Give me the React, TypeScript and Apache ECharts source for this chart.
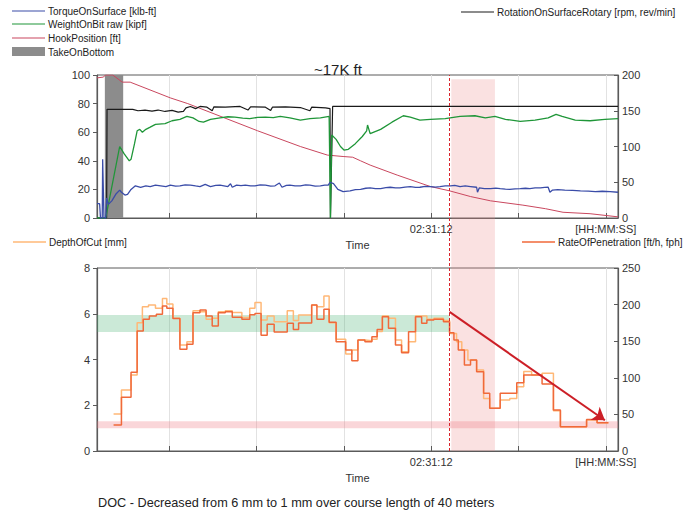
import React, { useEffect, useRef } from 'react';
import * as echarts from 'echarts';

// ---------- axes ----------
const X_MIN = -3.83; // minutes relative to 02:31:12
const X_MAX = 2.14;
const GRID_TICKS = [-3, -2, -1, 0, 1, 2];
const TIME_LABEL_VALUES = [0, 2];
const TIME_LABELS = ['02:31:12', '[HH:MM:SS]'];

// ---------- names ----------
const N_TORQUE = 'TorqueOnSurface [klb-ft]';
const N_WOB = 'WeightOnBit raw [kipf]';
const N_HOOK = 'HookPosition [ft]';
const N_TOB = 'TakeOnBottom';
const N_ROT = 'RotationOnSurfaceRotary [rpm, rev/min]';
const N_DOC = 'DepthOfCut [mm]';
const N_ROP = 'RateOfPenetration [ft/h, fph]';

const TITLE = '~17K ft';
const CAPTION = 'DOC - Decreased from 6 mm to 1 mm over course length of 40 meters';

// ---------- top chart data ----------
const torque: [number, number][] = [
  [-3.83, 10], [-3.8, 10], [-3.79, 0], [-3.77, 0], [-3.765, 41], [-3.75, 0], [-3.73, 0], [-3.72, 14],
  [-3.7, 9.5], [-3.66, 12], [-3.61, 17], [-3.57, 19.5], [-3.55, 18], [-3.51, 16], [-3.48, 16.5],
  [-3.44, 20], [-3.39, 22.5], [-3.33, 21.5], [-3.27, 22.5], [-3.22, 22], [-3.16, 23], [-3.1, 22.5],
  [-3.04, 22], [-2.99, 23], [-2.93, 22.3], [-2.88, 22.5], [-2.82, 23.2], [-2.76, 23], [-2.7, 22.4],
  [-2.65, 22], [-2.59, 23.5], [-2.53, 22], [-2.47, 22.8], [-2.42, 23], [-2.33, 22], [-2.3, 24],
  [-2.28, 21.5], [-2.23, 23], [-2.18, 22.6], [-2.13, 23], [-2.07, 22.4], [-2.02, 22.5], [-1.96, 23.2],
  [-1.9, 23], [-1.84, 22.3], [-1.79, 22.5], [-1.74, 24.5], [-1.71, 21.5], [-1.66, 22.8], [-1.62, 23],
  [-1.56, 22.4], [-1.5, 22.5], [-1.44, 23.1], [-1.39, 23], [-1.33, 22.3], [-1.27, 22.5], [-1.22, 23],
  [-1.18, 23], [-1.16, 25], [-1.12, 24], [-1.07, 20], [-1.01, 18.5], [-0.93, 19], [-0.87, 19.8],
  [-0.81, 20], [-0.75, 20.8], [-0.7, 21], [-0.64, 20.6], [-0.58, 20.5], [-0.52, 21.2], [-0.47, 21.5],
  [-0.41, 21], [-0.36, 21], [-0.3, 21.6], [-0.24, 22], [-0.18, 21.4], [-0.13, 21.5], [-0.07, 22.1],
  [-0.01, 22], [0.05, 21.6], [0.1, 22], [0.16, 22.5], [0.22, 22.5], [0.27, 22.8], [0.33, 22],
  [0.39, 22.4], [0.45, 22], [0.52, 21.5], [0.53, 18], [0.55, 21], [0.61, 20.6], [0.68, 20.5],
  [0.74, 20.9], [0.79, 20.5], [0.85, 20.2], [0.9, 20], [0.96, 20.4], [1.02, 20.5], [1.08, 20.8],
  [1.13, 20.5], [1.19, 21], [1.25, 21], [1.3, 21.4], [1.34, 21.5], [1.36, 18], [1.39, 19.5],
  [1.45, 19.8], [1.53, 19.5], [1.62, 19.3], [1.71, 19], [1.8, 18.8], [1.88, 18.5], [1.96, 18.7],
  [2.05, 18.5], [2.14, 18],
];

const wob: [number, number][] = [
  [-3.83, 0], [-3.73, 0], [-3.65, 25], [-3.57, 50], [-3.52, 45], [-3.46, 40], [-3.44, 41], [-3.4, 52],
  [-3.37, 61], [-3.34, 62], [-3.31, 60], [-3.27, 62], [-3.22, 63.5], [-3.16, 65.5], [-3.05, 66],
  [-2.97, 68], [-2.88, 69], [-2.8, 71], [-2.73, 70], [-2.66, 67.5], [-2.61, 67], [-2.53, 69],
  [-2.42, 70], [-2.33, 70.8], [-2.25, 70.5], [-2.16, 69.8], [-2.08, 69.5], [-1.99, 70.3], [-1.9, 70.5],
  [-1.81, 70.2], [-1.73, 71], [-1.62, 70], [-1.5, 68.5], [-1.39, 69.5], [-1.27, 70], [-1.17, 71],
  [-1.155, 0], [-1.14, 58], [-1.09, 55], [-1.04, 50], [-1.0, 47.5], [-0.95, 48], [-0.87, 52],
  [-0.79, 57], [-0.74, 61], [-0.73, 65], [-0.7, 59], [-0.58, 62], [-0.45, 67], [-0.32, 71.5],
  [-0.24, 70.5], [-0.13, 68.5], [-0.01, 69], [0.16, 69.5], [0.33, 71], [0.5, 71.5], [0.62, 70],
  [0.73, 71], [0.85, 69], [1.02, 67.5], [1.19, 68.5], [1.34, 70], [1.43, 72.5], [1.5, 71],
  [1.65, 68.5], [1.82, 68], [1.99, 69], [2.14, 69.5],
];

const hook: [number, number][] = [
  [-3.83, 98], [-3.76, 98.5], [-3.73, 100], [-3.65, 100], [-3.54, 95], [-3.45, 95], [-2.99, 84],
  [-2.79, 80], [-1.99, 61], [-1.5, 50], [-1.19, 44], [-1.01, 43], [-0.9, 42.5], [-0.81, 40],
  [-0.7, 37], [-0.39, 30], [-0.01, 22], [0.21, 19], [0.45, 15], [0.68, 12], [1.05, 9], [1.31, 6.5],
  [1.51, 4], [1.82, 3], [2.14, 0.8],
];

const rotation: [number, number][] = [
  [-3.83, 0], [-3.72, 0], [-3.715, 152], [-3.42, 152], [-3.36, 150], [-3.28, 151], [-3.2, 149.5],
  [-3.13, 151], [-3.05, 149], [-2.97, 150.5], [-2.9, 148], [-2.84, 149], [-2.81, 154], [-2.76, 156],
  [-2.7, 153], [-2.65, 156], [-2.57, 155], [-2.51, 150], [-2.49, 155.5], [-2.36, 155], [-2.19, 156],
  [-2.1, 151], [-2.07, 155.5], [-1.9, 155], [-1.84, 150.5], [-1.82, 155], [-1.67, 155.5],
  [-1.5, 154.5], [-1.39, 150], [-1.37, 155], [-1.21, 154], [-1.16, 153], [-1.155, 0], [-1.13, 156],
  [2.14, 156],
];

const takeOnBottom = [-3.74, -3.53];

// ---------- bottom chart data (step, value holds until next point) ----------
const doc: [number, number][] = [
  [-3.64, 1.62], [-3.55, 2.67], [-3.44, 3.32], [-3.37, 5.61], [-3.31, 6.31], [-3.24, 6.38],
  [-3.16, 6.24], [-3.08, 6.67], [-3.03, 6.43], [-2.96, 5.8], [-2.88, 4.63], [-2.8, 4.78],
  [-2.73, 6.13], [-2.65, 6.09], [-2.58, 5.76], [-2.51, 5.8], [-2.44, 6.09], [-2.36, 6.13],
  [-2.28, 6.05], [-2.17, 5.84], [-2.08, 6.24], [-2.02, 6.49], [-1.95, 5.73], [-1.88, 5.9],
  [-1.8, 5.65], [-1.65, 6.13], [-1.58, 5.7], [-1.52, 5.95], [-1.37, 6.38], [-1.31, 6.31],
  [-1.23, 6.78], [-1.17, 5.61], [-1.09, 4.88], [-0.98, 4.24], [-0.91, 4.42], [-0.84, 4.85],
  [-0.76, 4.82], [-0.68, 4.88], [-0.62, 5.22], [-0.56, 5.9], [-0.49, 5.8], [-0.41, 4.85],
  [-0.34, 4.34], [-0.26, 4.78], [-0.18, 5.9], [-0.05, 5.76], [0.03, 5.8], [0.14, 5.7], [0.21, 5.14],
  [0.29, 4.78], [0.35, 4.42], [0.42, 3.98], [0.52, 3.54], [0.6, 2.3], [0.67, 1.87], [0.79, 2.23],
  [0.9, 2.3], [0.98, 2.81], [1.06, 3.47], [1.15, 3.32], [1.27, 3.4], [1.4, 1.76], [1.48, 1.06],
  [1.78, 1.36], [1.9, 1.24], [2.03, 1.24],
];

const rop: [number, number][] = [
  [-3.64, 35.5], [-3.55, 73.4], [-3.44, 107.5], [-3.37, 164], [-3.3, 180], [-3.23, 184.4],
  [-3.15, 186.7], [-3.08, 198], [-3.03, 195], [-2.96, 181], [-2.88, 139], [-2.8, 146], [-2.73, 189],
  [-2.65, 192.6], [-2.58, 184.4], [-2.51, 170.8], [-2.44, 189], [-2.36, 190.3], [-2.28, 182.6],
  [-2.17, 180], [-2.08, 186.2], [-2.02, 188], [-1.95, 158], [-1.88, 173], [-1.8, 162.6],
  [-1.65, 174.4], [-1.58, 166], [-1.52, 175], [-1.37, 199.5], [-1.31, 180], [-1.23, 193.6],
  [-1.17, 176], [-1.09, 149.3], [-0.98, 138], [-0.91, 123.4], [-0.84, 151.6], [-0.76, 149.3],
  [-0.68, 156], [-0.62, 166], [-0.56, 183.5], [-0.49, 167.6], [-0.41, 144.8], [-0.34, 134.3],
  [-0.26, 163], [-0.18, 183.5], [-0.11, 174.4], [-0.05, 179], [0.03, 180], [0.14, 176.6],
  [0.21, 161.6], [0.26, 151.6], [0.31, 138], [0.38, 117.5], [0.45, 124.3], [0.52, 108.3],
  [0.6, 78.8], [0.67, 58.3], [0.79, 78.8], [0.98, 93.3], [1.06, 103.8], [1.27, 91.5], [1.4, 56],
  [1.48, 33], [1.78, 43], [1.9, 38.5], [2.03, 38.5],
];

// ---------- annotations ----------
const CUT_TIME = 0.21;
const HIGHLIGHT = [0.23, 0.73];
const HIGHLIGHT_TOP = 98.9; // percent of overlay height
const GREEN_BAND = [5.2, 5.95];
const RED_BAND = [1.0, 1.3];
const ARROW_FROM: [number, number] = [0.21, 190];
const ARROW_TO: [number, number] = [1.99, 42];

// ---------- colours ----------
const C_TORQUE = '#3a4ca8';
const C_WOB = '#1f9638';
const C_HOOK = '#c9475e';
const C_ROT = '#1a1a1a';
const C_TOB = '#8c8c8c';
const C_DOC = '#ffb877';
const C_ROP = '#f0693a';

const FONT = "'Liberation Sans', Arial, Helvetica, sans-serif";
const AX = '#5a5a5a';
const LBL = '#333';

function xAxisFor(gridIndex: number) {
  return {
    type: 'value',
    gridIndex,
    min: X_MIN,
    max: X_MAX,
    name: 'Time',
    nameLocation: 'middle',
    nameGap: 21,
    nameTextStyle: { color: LBL, fontSize: 11, fontFamily: FONT },
    axisLine: { show: true, onZero: false, lineStyle: { color: AX, width: 1.2 } },
    axisTick: { show: true, inside: true, length: 5, customValues: GRID_TICKS, lineStyle: { color: AX } },
    splitLine: { show: true, lineStyle: { color: '#e2e2e2', width: 1 } },
    axisLabel: {
      customValues: TIME_LABEL_VALUES,
      margin: 5,
      color: LBL,
      fontSize: 11,
      fontFamily: FONT,
      formatter: (v: number) => {
        const i = TIME_LABEL_VALUES.findIndex((t) => Math.abs(t - v) < 1e-6);
        return i >= 0 ? TIME_LABELS[i] : '';
      },
    },
  };
}

function yAxisFor(gridIndex: number, position: 'left' | 'right', max: number, interval: number) {
  const right = position === 'right';
  return {
    type: 'value',
    gridIndex,
    position,
    min: 0,
    max,
    interval,
    axisLine: { show: true, onZero: false, lineStyle: { color: AX, width: 1.2 } },
    axisTick: { show: true, inside: right, length: 4, lineStyle: { color: AX } },
    splitLine: { show: false },
    axisLabel: { color: LBL, fontSize: 11, fontFamily: FONT, margin: right ? 4 : 7 },
  };
}

function legendLine(x: number, y: number, len: number, color: string, text: string, width = 1.2) {
  return [
    { type: 'line', shape: { x1: x, y1: y, x2: x + len, y2: y }, style: { stroke: color, lineWidth: width } },
    {
      type: 'text',
      x: x + len + 3,
      y,
      style: { text, fontSize: 10, fill: '#222', fontFamily: FONT, verticalAlign: 'middle', align: 'left' },
    },
  ];
}

function buildOption(): any {
  return {
    animation: false,
    textStyle: { fontFamily: FONT },
    title: [
      { text: TITLE, left: 309, top: 57, textStyle: { fontSize: 15, fontWeight: 'normal', color: '#222', fontFamily: FONT } },
      { text: CAPTION, left: 93, top: 491, textStyle: { fontSize: 12.7, fontWeight: 'normal', color: '#222', fontFamily: FONT } },
    ],
    grid: [
      { left: 97, right: 76, top: 75, height: 143, show: true, borderColor: AX, borderWidth: 1, backgroundColor: 'transparent', outerBoundsMode: 'none' },
      { left: 97, right: 76, top: 268, height: 183, show: true, borderColor: AX, borderWidth: 1, backgroundColor: 'transparent', outerBoundsMode: 'none' },
      { left: 97, right: 76, top: 75, height: 376, show: false, outerBoundsMode: 'none' },
    ],
    xAxis: [
      xAxisFor(0),
      xAxisFor(1),
      { type: 'value', gridIndex: 2, min: X_MIN, max: X_MAX, show: false },
    ],
    yAxis: [
      yAxisFor(0, 'left', 100, 20),
      yAxisFor(0, 'right', 200, 50),
      yAxisFor(1, 'left', 8, 2),
      yAxisFor(1, 'right', 250, 50),
      { type: 'value', gridIndex: 2, min: 0, max: 100, show: false },
    ],
    graphic: [
      ...legendLine(12, 11, 33, C_TORQUE, N_TORQUE),
      ...legendLine(12, 24, 33, C_WOB, N_WOB),
      ...legendLine(12, 38, 33, C_HOOK, N_HOOK),
      { type: 'rect', shape: { x: 12, y: 47, width: 33, height: 9 }, style: { fill: C_TOB } },
      { type: 'text', x: 48, y: 52, style: { text: N_TOB, fontSize: 10, fill: '#222', fontFamily: FONT, verticalAlign: 'middle' } },
      ...legendLine(461, 12, 33, C_ROT, N_ROT),
      ...legendLine(13, 242, 33, C_DOC, N_DOC, 1.5),
      ...legendLine(522, 242, 33, C_ROP, N_ROP, 1.5),
    ],
    series: [
      {
        name: 'highlight', type: 'line', xAxisIndex: 2, yAxisIndex: 4, data: [], z: 1, silent: true,
        markArea: {
          silent: true,
          itemStyle: { color: 'rgba(236,140,140,0.26)' },
          data: [[{ xAxis: HIGHLIGHT[0], yAxis: 0 }, { xAxis: HIGHLIGHT[1], yAxis: HIGHLIGHT_TOP }]],
        },
        markLine: {
          silent: true, symbol: ['none', 'none'], label: { show: false },
          lineStyle: { color: '#d8232a', type: [3, 2], width: 1 },
          data: [{ xAxis: CUT_TIME }],
        },
      },
      {
        name: N_TOB, type: 'line', xAxisIndex: 0, yAxisIndex: 0, data: [], silent: true,
        markArea: {
          silent: true,
          itemStyle: { color: C_TOB },
          data: [[{ xAxis: takeOnBottom[0] }, { xAxis: takeOnBottom[1] }]],
        },
      },
      { name: N_HOOK, type: 'line', xAxisIndex: 0, yAxisIndex: 0, data: hook, symbol: 'none', lineStyle: { color: C_HOOK, width: 1 }, itemStyle: { color: C_HOOK } },
      { name: N_ROT, type: 'line', xAxisIndex: 0, yAxisIndex: 1, data: rotation, symbol: 'none', lineStyle: { color: C_ROT, width: 1.2 }, itemStyle: { color: C_ROT } },
      { name: N_WOB, type: 'line', xAxisIndex: 0, yAxisIndex: 0, data: wob, symbol: 'none', lineStyle: { color: C_WOB, width: 1.3 }, itemStyle: { color: C_WOB } },
      { name: N_TORQUE, type: 'line', xAxisIndex: 0, yAxisIndex: 0, data: torque, symbol: 'none', lineStyle: { color: C_TORQUE, width: 1.3 }, itemStyle: { color: C_TORQUE } },
      {
        name: N_DOC, type: 'line', xAxisIndex: 1, yAxisIndex: 2, data: doc, step: 'end', symbol: 'none',
        lineStyle: { color: C_DOC, width: 1.5 }, itemStyle: { color: C_DOC },
        markArea: {
          silent: true,
          data: [
            [{ xAxis: X_MIN, yAxis: GREEN_BAND[0], itemStyle: { color: 'rgba(70,175,110,0.28)' } }, { xAxis: CUT_TIME, yAxis: GREEN_BAND[1] }],
            [{ yAxis: RED_BAND[0], itemStyle: { color: 'rgba(240,120,130,0.3)' } }, { yAxis: RED_BAND[1] }],
          ],
        },
      },
      {
        name: N_ROP, type: 'line', xAxisIndex: 1, yAxisIndex: 3, data: rop, step: 'end', symbol: 'none',
        lineStyle: { color: C_ROP, width: 1.5 }, itemStyle: { color: C_ROP },
        markLine: {
          silent: true, symbol: ['none', 'arrow'], symbolSize: 12, label: { show: false },
          itemStyle: { color: '#cc1f27' },
          lineStyle: { color: '#cc1f27', width: 2, type: 'solid' },
          data: [[{ coord: ARROW_FROM }, { coord: ARROW_TO }]],
        },
      },
    ],
  };
}

export default function App() {
  const ref = useRef<HTMLDivElement>(null);
  useEffect(() => {
    document.body.style.margin = '0';
    const chart = echarts.init(ref.current!, null, { renderer: 'svg' });
    chart.setOption(buildOption());
    return () => chart.dispose();
  }, []);
  return <div ref={ref} style={{ position: 'fixed', left: 0, top: 0, width: 694, height: 510, background: '#fff' }} />;
}
